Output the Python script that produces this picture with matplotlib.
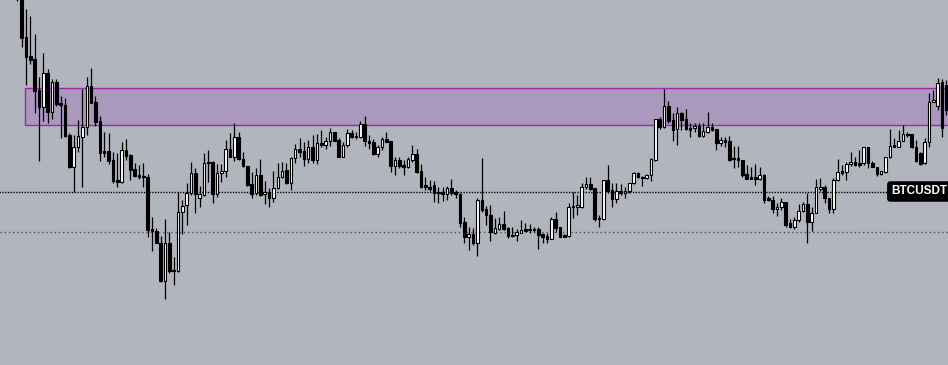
import matplotlib
matplotlib.use("Agg")
import matplotlib.pyplot as plt
from matplotlib.patches import Rectangle

# BTCUSDT candles, oldest first (price in chart units)
opens = [
    385, 368, 327.7, 309, 305.7, 275, 258.3, 291.7, 253.3, 282.7,
    261.7, 259.7, 230, 198.3, 217.7, 228.3, 237.7, 279, 263, 244.3,
    214, 214, 205, 185, 183, 215, 210, 195.7, 190, 189,
    187.7, 135.7, 134.3, 122.3, 84.3, 122.3, 95, 94.3, 153.3, 159.7,
    172.3, 191.7, 166.7, 170, 203, 203, 171, 191.7, 193.7, 215.7,
    208.3, 227.7, 205.7, 199, 181, 171.7, 189.7, 170.7, 172.7, 166.7,
    176.7, 187.7, 195, 182.3, 206.7, 215.7, 214.3, 205.7, 217.7, 205,
    221.7, 220.3, 223.7, 232.7, 225, 208.3, 219.7, 231.7, 227.7, 227.7,
    241, 224.3, 223.3, 211, 217.7, 225.7, 224.3, 199, 205, 200,
    198.3, 205, 211, 194.3, 180, 177.7, 180, 173, 173, 171,
    176.7, 173.3, 171, 143.3, 128.3, 131, 121.7, 165, 156.3, 149.7,
    132.3, 136.3, 140.7, 136.7, 130, 129.7, 132.3, 136.3, 136.3, 136.3,
    135.7, 131, 129, 126.3, 145.7, 137.7, 130, 129, 157.7, 158.3,
    158.3, 177.7, 181, 176.7, 146.7, 146, 185, 175, 165.7, 174.3,
    171.7, 173.7, 181.7, 191.7, 188.3, 186.7, 190, 205, 245.7, 237.7,
    259, 245, 235.7, 252.3, 245.7, 236.7, 236.7, 239, 229, 233.3,
    237.7, 235.7, 222.3, 225, 224, 207.3, 207.3, 205, 191, 188.3,
    188.3, 186.3, 190.3, 166.7, 165, 155.7, 157.7, 163, 141.7, 138.3,
    145, 154.3, 161, 143.3, 152.3, 176.3, 177.7, 166.7, 155.7, 185,
    194.3, 193.3, 201, 203.3, 201.7, 201.7, 218.3, 202.3, 198.3, 191,
    193.3, 207.7, 219.7, 218.3, 224.3, 231, 231, 217.7, 212.3, 201.7,
    223.3, 263.3, 259, 283.3, 280,
]
highs = [
    390, 373, 356, 349, 331, 288, 312.3, 295.7, 286.3, 286.3,
    269, 266.7, 232.3, 230, 245, 275.7, 287.7, 296.7, 269, 249,
    233.3, 232.3, 213.3, 212.3, 223.3, 225.7, 211, 201.7, 200, 201.7,
    191, 147.7, 136.7, 129, 145.7, 133.3, 107.7, 173.3, 165, 182.3,
    203, 196.7, 179, 212.3, 215, 204.3, 201, 201, 225, 231.7,
    241.7, 233.3, 213.3, 199, 193.3, 196.7, 205.7, 184.3, 176.7, 194.3,
    201.7, 203, 202.3, 208.3, 221, 226.7, 223.3, 225, 230, 231,
    235, 228.3, 236.7, 233.3, 226.7, 223.3, 235.7, 235, 233.3, 244.3,
    249, 230, 225.7, 220, 228.3, 233.3, 224.5, 208.3, 208.3, 205,
    208.3, 220, 215.7, 201, 188.3, 185, 184.3, 177.7, 178.3, 179,
    185.7, 175, 172, 147.7, 138.3, 136.7, 166.7, 206.7, 159, 160,
    146.7, 147.7, 154.3, 137.7, 137.7, 135.7, 145, 141.7, 141, 137.7,
    137.7, 132.3, 131.7, 147.7, 153.3, 138.3, 131, 162.3, 173.3, 170,
    182.3, 187.7, 187.7, 177, 150, 185, 200, 181.7, 182.3, 181,
    178.3, 182.5, 193.3, 193.3, 189, 191, 206.7, 246, 247.7, 275.7,
    264.3, 252.3, 258.3, 253, 255.7, 241.7, 242.3, 241.7, 242.3, 253.3,
    242.3, 236, 227.7, 228.3, 229, 219, 219, 205.5, 200, 198.3,
    201, 198.3, 191, 169, 169, 161.7, 166.7, 163.5, 145.7, 148.3,
    161, 163.3, 172.3, 158.3, 185.7, 186.7, 180, 167, 186.7, 205.7,
    200, 203.3, 213.3, 207.7, 215, 218.5, 218.5, 204.3, 198.5, 194.5,
    208, 235.7, 226.7, 235, 240, 233.3, 231.5, 225, 213, 226.7,
    271.7, 275, 286.7, 286, 285,
]
lows = [
    364, 318.3, 280, 301, 252, 204.3, 244.3, 242.3, 246.3, 259,
    226.7, 228.3, 196.7, 173.3, 213.3, 178.3, 230, 261.7, 239, 204.3,
    208.3, 201, 182.3, 178.3, 182.3, 205, 185, 188.3, 185.7, 178,
    128.3, 114.3, 122, 83.3, 66, 91.7, 80, 93.3, 131, 140,
    170, 152.3, 158.3, 169, 183.3, 161.7, 168.3, 183.3, 188.3, 207.7,
    204.3, 205, 198.5, 179, 166.7, 170, 169.5, 161, 158.3, 163.3,
    175.7, 186.7, 181, 175, 201.7, 208.3, 199, 201.7, 202.3, 201,
    217.7, 215.7, 219, 224, 207.7, 207.7, 218.3, 226.7, 225.7, 226.7,
    219, 215.7, 210, 207.7, 215, 223, 193.3, 190, 196.7, 190,
    196.7, 203.3, 192.3, 176.7, 175, 174.3, 163.3, 161.7, 164, 165,
    170, 166.7, 138.3, 121.7, 115, 120, 109, 153.3, 140, 124.3,
    131, 135, 135, 126.7, 128.5, 124.3, 131.7, 134, 132.3, 133.3,
    115.7, 122.3, 122.3, 125.7, 133.3, 127.7, 128, 128.5, 146.7, 150,
    156.7, 175.7, 175, 144.3, 138.3, 145.5, 171.7, 157.7, 162.3, 170,
    166.7, 172.3, 181, 186.7, 179, 185.7, 184.3, 204.5, 235.7, 236.7,
    241.7, 224.3, 220, 235, 235.5, 228.3, 233.3, 228.5, 227.7, 232.3,
    234.3, 215, 219, 218.3, 204.5, 196.7, 198.3, 188.3, 185.7, 186,
    180, 185, 162.3, 164.5, 151.7, 149, 155, 137.7, 136.7, 135.7,
    143.3, 153.3, 121.7, 134.3, 151.7, 174.3, 161.7, 152.3, 151.7, 184.3,
    190, 185, 199, 199.5, 198.3, 200, 196.7, 198, 189, 190,
    192.3, 207.5, 217.7, 217.7, 223.7, 228.3, 217, 203.3, 200, 201,
    218.3, 263, 255, 228.3, 250,
]
closes = [
    370, 327.3, 308.3, 305, 274.3, 258.3, 291.7, 253.3, 282.7, 261,
    259.7, 229, 198.3, 217.7, 229, 237.7, 279, 262.3, 243.3, 212.3,
    212.3, 204.3, 184.3, 183, 215, 209, 195, 189, 187.7, 187.7,
    135, 134.3, 122.3, 84.3, 122.3, 94.3, 93.7, 153.3, 159, 172.3,
    191.7, 171, 171, 202.3, 201.7, 171, 191.7, 194.3, 215.7, 208.3,
    227.7, 205.7, 199, 180, 171, 189.7, 170, 172.7, 166.7, 176.7,
    187.7, 194.3, 181.7, 206.7, 215.7, 213.3, 205.7, 217.7, 205, 221.7,
    220.3, 223.7, 232.7, 224.3, 208.3, 219.7, 231.7, 228.3, 229, 241,
    224.3, 222.3, 211, 218.3, 225.7, 223.3, 199, 205, 199, 198.3,
    205.7, 211, 193.3, 178.3, 177.7, 176.3, 171.7, 171.7, 171, 176.7,
    172.3, 170.7, 142.3, 128.3, 131, 121.7, 165, 155, 149.7, 133.3,
    136.7, 140.7, 135.7, 129, 129, 133, 135, 134.3, 135, 135,
    130, 127.7, 126.3, 145.7, 137.3, 128.3, 128.3, 158.3, 159, 159.7,
    177.7, 181, 175.7, 145.7, 145.7, 185, 174.3, 165.7, 174.3, 171.7,
    173.7, 182.3, 191.7, 187.7, 187, 190, 205.7, 245.7, 238.3, 259,
    244.3, 235, 251.7, 245, 235.7, 235.3, 239, 229, 234, 237.7,
    235, 222.3, 225, 223, 205, 205.7, 205, 190.3, 186.3, 186.3,
    186.3, 189.7, 165, 165, 155.7, 158.3, 163, 140, 138.3, 145,
    154.3, 161, 143.3, 152.3, 177.7, 177.7, 166.7, 155.7, 185, 193.3,
    192.3, 201, 203.3, 200, 200, 218.3, 201.7, 198.3, 191, 194.3,
    207.7, 219, 218.3, 224.3, 231, 229.7, 217.7, 204.3, 201, 223.3,
    263.3, 265, 282.3, 236.7, 255,
]

# supply zone and reference levels
zone_low, zone_high = 240, 277
level_price = 173.5
lower_level = 133.5
symbol = "BTCUSDT"

bg_color = '#b2b5be'


def main():
    '''Draw the candlestick chart in a TradingView-like style.'''
    fig = plt.figure(figsize=(9.48, 3.65), dpi=100)
    ax = fig.add_axes([0, 0, 1, 1])
    ax.set_facecolor(bg_color)
    fig.patch.set_facecolor(bg_color)

    n = len(opens)
    xs = list(range(n))

    # zone rectangle
    ax.add_patch(Rectangle((1.76, zone_low), 300, zone_high - zone_low,
                           facecolor='#ab98bd', edgecolor='#9c27b0',
                           linewidth=1.0, zorder=1))

    # dotted levels
    ax.hlines(level_price, -10, 200.8, colors='black', linewidth=1.0,
              linestyles=(0, (1, 1)), zorder=1.5)
    ax.axhline(lower_level, color='#4a4d57', linewidth=1.0,
               linestyle=(0, (1, 2)), zorder=1.5)

    # wicks then bodies
    ax.vlines(xs, lows, highs, colors='black', linewidth=0.9, zorder=2)
    bottoms = [min(o, c) for o, c in zip(opens, closes)]
    heights = [max(abs(c - o), 0.6) for o, c in zip(opens, closes)]
    colors = ['white' if c >= o else 'black' for o, c in zip(opens, closes)]
    ax.bar(xs, heights, bottom=bottoms, width=0.6, color=colors,
           edgecolor='black', linewidth=0.8, zorder=3)

    # symbol label on the price line
    ax.text(207.8, level_price, symbol, color='white', fontsize=8.5,
            family='Liberation Sans', fontweight='bold',
            ha='center', va='center', zorder=5,
            bbox=dict(boxstyle='round,pad=0.3,rounding_size=0.2',
                      fc='black', ec='black'))

    ax.set_xlim(-4.0, 214.4)
    ax.set_ylim(0, 365)
    ax.axis('off')

    fig.savefig('out.png', dpi=100, facecolor=bg_color)


if __name__ == "__main__":
    main()
